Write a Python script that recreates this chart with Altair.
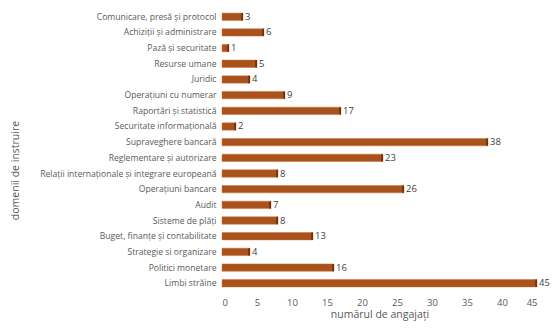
import altair as alt
import pandas as pd

domains = [
    "Comunicare, presă și protocol",
    "Achiziții și administrare",
    "Pază și securitate",
    "Resurse umane",
    "Juridic",
    "Operațiuni cu numerar",
    "Raportări și statistică",
    "Securitate informațională",
    "Supraveghere bancară",
    "Reglementare și autorizare",
    "Relații internaționale și integrare europeană",
    "Operațiuni bancare",
    "Audit",
    "Sisteme de plăți",
    "Buget, finanțe și contabilitate",
    "Strategie si organizare",
    "Politici monetare",
    "Limbi străine",
]
employees = [3, 6, 1, 5, 4, 9, 17, 2, 38, 23, 8, 26, 7, 8, 13, 4, 16, 45]
x_ticks = [0, 5, 10, 15, 20, 25, 30, 35, 40, 45]

df = pd.DataFrame({"domeniu": domains, "angajati": employees})

FONT = "Open Sans"
GRAY = "#595959"

y_axis = alt.Axis(
    title="domenii de instruire",
    titleX=-202,
    titleY=161,
    titleAngle=-90,
    titleFontSize=10.5,
    titleFontWeight="normal",
    titleColor=GRAY,
    titleFont=FONT,
    labelFontSize=8.6,
    labelColor=GRAY,
    labelFont=FONT,
    labelPadding=6,
    domain=False,
    ticks=False,
)
y_scale = alt.Scale(paddingInner=0.53, paddingOuter=0.26)
x_axis = alt.Axis(
    values=x_ticks,
    title="numărul de angajați",
    titleFontSize=10.5,
    titleFontWeight="normal",
    titleColor=GRAY,
    titleFont=FONT,
    titlePadding=3,
    labelFontSize=9.5,
    labelColor=GRAY,
    labelFont=FONT,
    labelPadding=6,
    domain=False,
    ticks=False,
    grid=False,
)
x_scale = alt.Scale(domain=[0, 45], nice=False)

base = alt.Chart(df)

bars = base.mark_bar(color="#A9521B", stroke="#C9753E", strokeWidth=0.5).encode(
    y=alt.Y("domeniu:N", sort=domains, scale=y_scale, axis=y_axis),
    x=alt.X("angajati:Q", scale=x_scale, axis=x_axis),
)
caps = base.transform_calculate(start="datum.angajati - 0.25").mark_bar(
    color="#6E3010"
).encode(
    y=alt.Y("domeniu:N", sort=domains, scale=y_scale, axis=y_axis),
    x=alt.X("start:Q", scale=x_scale, axis=x_axis),
    x2="angajati:Q",
)
labels = base.mark_text(
    align="left", baseline="middle", dx=2, fontSize=9.5, color="#404040", font=FONT
).encode(
    y=alt.Y("domeniu:N", sort=domains, scale=y_scale, axis=y_axis),
    x=alt.X("angajati:Q", scale=x_scale, axis=x_axis),
    text="angajati:Q",
)

chart = (
    alt.layer(bars, caps, labels)
    .properties(
        width=315,
        height=282,
        autosize=alt.AutoSizeParams(type="none"),
        padding={"left": 214, "top": 1, "right": 13, "bottom": 32},
        background="white",
    )
    .configure_view(stroke=None)
)

chart.save("out.html", embed_options={"renderer": "svg", "actions": False})
